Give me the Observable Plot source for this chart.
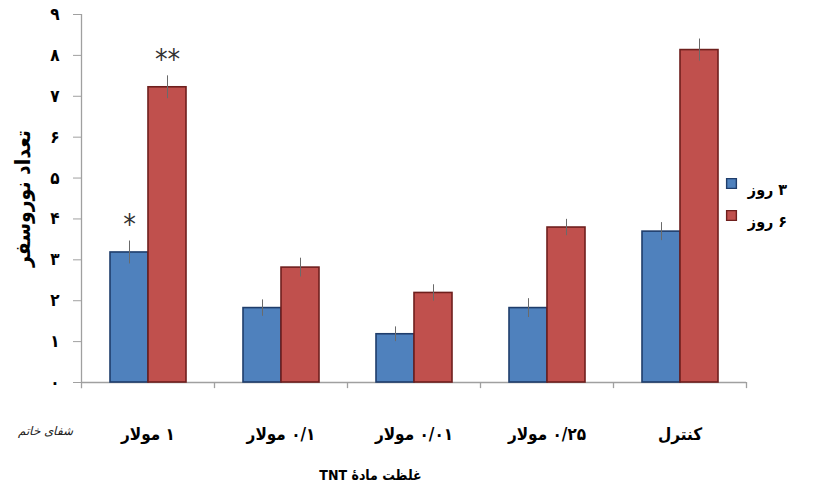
<!DOCTYPE html>
<html>
<head>
<meta charset="utf-8">
<script src="https://cdn.jsdelivr.net/npm/d3@7"></script>
<script src="https://cdn.jsdelivr.net/npm/@observablehq/plot@0.6"></script>
<style>
  html, body { margin: 0; padding: 0; background: #fff; }
  #chart { width: 831px; height: 493px; }
</style>
</head>
<body>
<div id="chart"></div>
<script>
// ---- data ----
const categories = ["۱ مولار", "۰/۱ مولار", "۰/۰۱ مولار", "۰/۲۵ مولار", "کنترل"];
const series = ["۳ روز", "۶ روز"];
const day3 = [3.18, 1.82, 1.18, 1.82, 3.69];
const day3Err = [0.28, 0.20, 0.18, 0.23, 0.22];
const day6 = [7.22, 2.81, 2.19, 3.79, 8.13];
const day6Err = [0.28, 0.23, 0.20, 0.20, 0.27];
const yTicks = [0, 1, 2, 3, 4, 5, 6, 7, 8, 9];
const annotations = [
  {category: "۱ مولار", series: "۳ روز", label: "*"},
  {category: "۱ مولار", series: "۶ روز", label: "**"}
];
const yTitle = "تعداد نوروسفر";
const xTitle = "غلظت مادهٔ TNT";
const watermark = "شفای خاتم";

// ---- styles ----
const fills = ["#4F81BD", "#C0504D"];
const strokes = ["#1F3D6B", "#6E1F1D"];
const font = "'DejaVu Sans Condensed', 'DejaVu Sans', sans-serif";
const fa = n => String(n).replace(/\d/g, d => "۰۱۲۳۴۵۶۷۸۹"[d]);

const values = [day3, day6];
const errs = [day3Err, day6Err];
const rows = [];
series.forEach((s, si) => categories.forEach((c, ci) => {
  rows.push({category: c, series: s, si, value: values[si][ci], err: errs[si][ci]});
}));
const ann = annotations.map(a => {
  const r = rows.find(d => d.category === a.category && d.series === a.series);
  return {...a, si: r.si, top: r.value + r.err};
});

const barInset = [[29, 66], [67, 28]];
const centerDx = [-18.5, 19.5];
const axisGray = "#a0a0a0";

const plot = Plot.plot({
  width: 831,
  height: 493,
  marginLeft: 81,
  marginRight: 85,
  marginTop: 14,
  marginBottom: 111,
  style: {fontFamily: font, background: "#fff", color: "#000"},
  x: {type: "band", domain: categories, padding: 0, axis: null},
  y: {domain: [0, 9], axis: null},
  marks: [
    // axis lines and boundary ticks
    Plot.ruleY([0], {stroke: axisGray, strokeWidth: 1.3}),
    Plot.ruleX([categories[0]], {x: d => d, dx: -66.5, y1: -0.15, y2: 9, stroke: axisGray, strokeWidth: 1.3}),
    Plot.ruleX(categories.slice(1), {x: d => d, dx: -66.5, y1: -0.15, y2: 0, stroke: axisGray, strokeWidth: 1.3}),
    Plot.ruleX([categories[categories.length - 1]], {x: d => d, dx: 66.5, y1: -0.15, y2: 0, stroke: axisGray, strokeWidth: 1.3}),
    // y axis
    Plot.axisY({
      ticks: yTicks, tickFormat: fa, tickSize: 8, tickPadding: 14,
      stroke: axisGray, fill: "#000", fontSize: 17, fontWeight: "bold", label: null
    }),
    // x axis labels
    Plot.axisX({
      tickSize: 0, tickPadding: 45, fontSize: 17, fontWeight: "bold", fill: "#000", label: null
    }),
    // bars
    ...series.map((s, si) => Plot.barY(rows.filter(d => d.si === si), {
      x: "category", y: "value",
      fill: fills[si], stroke: strokes[si], strokeWidth: 1.6,
      insetLeft: barInset[si][0], insetRight: barInset[si][1]
    })),
    // error bars
    ...series.map((s, si) => Plot.ruleX(rows.filter(d => d.si === si), {
      x: "category", y1: d => d.value - d.err, y2: d => d.value + d.err,
      dx: centerDx[si], stroke: "#6a6a6a", strokeWidth: 1
    })),
    // significance stars
    ...series.map((s, si) => Plot.text(ann.filter(d => d.si === si), {
      x: "category", y: "top", text: "label", dx: centerDx[si], dy: -7,
      fontSize: 28, fill: "#333", lineAnchor: "bottom"
    })),
    // axis titles
    Plot.text([yTitle], {
      text: d => d, frameAnchor: "left", rotate: -90, dx: -58, textAnchor: "middle",
      fontSize: 21, fontWeight: "bold", fill: "#000"
    }),
    Plot.text([xTitle], {
      text: d => d, frameAnchor: "bottom-left", dx: 289, dy: 97, textAnchor: "middle",
      fontSize: 14, fontWeight: "bold", fill: "#000"
    }),
    // legend
    ...series.map((s, si) => Plot.dot([s], {
      frameAnchor: "top-right", dx: -15, dy: 169 + si * 32,
      symbol: "square", r: 5.5, fill: fills[si], stroke: strokes[si], strokeWidth: 1.4
    })),
    ...series.map((s, si) => Plot.text([s], {
      text: d => d, frameAnchor: "top-right", dx: 21, dy: 169 + si * 32,
      textAnchor: "middle", fontSize: 16, fontWeight: "bold", fill: "#000"
    })),
    // watermark
    Plot.text([watermark], {
      text: d => d, frameAnchor: "bottom-left", dx: -36, dy: 52, textAnchor: "middle",
      fontSize: 12, fontStyle: "italic", fill: "#222",
      fontFamily: "'DejaVu Serif', serif"
    })
  ]
});
// Persian text is laid out right-to-left
const arabicLetters = /[\u0621-\u064A\u067E-\u06D5]/;
d3.select(plot).selectAll("text")
  .filter(function () { return arabicLetters.test(this.textContent); })
  .attr("direction", "rtl");
document.getElementById("chart").appendChild(plot);
</script>
</body>
</html>
